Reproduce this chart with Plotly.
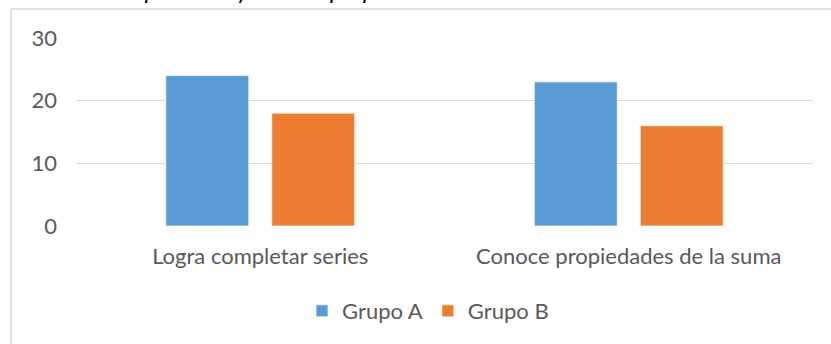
import plotly.graph_objects as go

# Chart data
categories = ["Logra completar series", "Conoce propiedades de la suma"]
grupo_a = [24, 23]
grupo_b = [18, 16]
series_names = ["Grupo A", "Grupo B"]
series_colors = ["#5B9BD5", "#ED7D31"]
y_ticks = [0, 10, 20, 30]
title_text = "Reconoce patrones y conoce propiedades de la suma"

# Page and plot-area geometry (pixels)
W, H = 831, 344
ML, MR, MT, MB = 76, 18, 38, 118
PW = W - ML - MR
PH = H - MT - MB


def px_x(px):
    """Pixel column -> paper x."""
    return (px - ML) / PW


def px_y(py):
    """Pixel row (from top) -> paper y."""
    return (H - MB - py) / PH


FONT = "Lato, 'Open Sans', sans-serif"
TEXT_GREY = "#595959"
GRID = "#d9d9d9"
FS = 22

fig = go.Figure()
for name, vals, col in zip(series_names, [grupo_a, grupo_b], series_colors):
    fig.add_trace(go.Bar(
        x=categories, y=vals, name=name,
        marker=dict(color=col, line=dict(color="rgba(255,255,255,0.7)", width=1)),
    ))

# Outer chart frame (only top and left edges fall inside the page)
frame = dict(type="line", xref="paper", yref="paper",
             line=dict(color=GRID, width=1.5), layer="below")
shapes = [
    dict(frame, x0=px_x(11), x1=px_x(W + 20), y0=px_y(9), y1=px_y(9)),
    dict(frame, x0=px_x(11), x1=px_x(11), y0=px_y(9), y1=px_y(H + 20)),
]

fig.update_layout(
    width=W, height=H,
    margin=dict(l=ML, r=MR, t=MT, b=MB, autoexpand=False),
    paper_bgcolor="white", plot_bgcolor="white",
    barmode="group", bargap=0.425, bargroupgap=0.217,
    font=dict(family=FONT, color=TEXT_GREY, size=FS),
    shapes=shapes,
    showlegend=True,
    legend=dict(orientation="h", xref="paper", x=px_x(428), xanchor="center",
                y=px_y(311), yanchor="middle", font=dict(size=FS, color=TEXT_GREY),
                bgcolor="rgba(0,0,0,0)"),
    # Figure caption sits above the frame; only its lowest strokes reach the page
    annotations=[dict(
        text="<i>" + title_text + "</i>", showarrow=False,
        xref="paper", yref="paper", x=px_x(42), xanchor="left",
        y=px_y(6), yanchor="bottom",
        font=dict(family=FONT, size=24, color="black"),
    )],
)

fig.update_yaxes(
    range=[0, 30], tickvals=y_ticks, showgrid=True, gridcolor=GRID, gridwidth=1.3,
    zeroline=False, showline=False, ticks="", ticklabelstandoff=18,
    tickfont=dict(size=FS, color=TEXT_GREY),
)
fig.update_xaxes(
    showgrid=False, showline=False, zeroline=False, ticks="", ticklabelstandoff=15,
    tickfont=dict(size=FS, color=TEXT_GREY),
)

fig.write_html("out.html")
